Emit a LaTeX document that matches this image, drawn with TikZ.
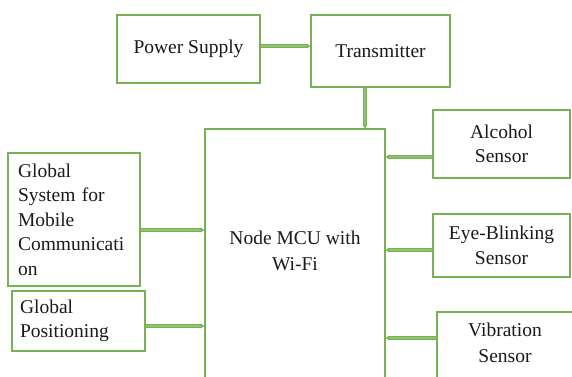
\documentclass[tikz,border=0pt]{standalone}
\usepackage{fontspec}
\setmainfont{Liberation Serif}
\newfontfamily\diagface{Liberation Serif}
\usetikzlibrary{arrows.meta}
\definecolor{boxgreen}{HTML}{78B155}
\definecolor{linkfill}{HTML}{8FC46C}
\definecolor{inktext}{HTML}{1A1A1A}
\tikzset{
  block/.style={draw=boxgreen, line width=1.4pt, fill=white, inner sep=0pt,
    text=inktext, font=\diagface\fontsize{19.5}{24.5}\selectfont, align=center},
  leftblock/.style={block, align=left},
  conn/.style={draw=boxgreen, line width=1pt, double=linkfill,
    double distance=1.5pt, -{Stealth[length=4pt,width=5pt]}},
  labeltext/.style={text=inktext, font=\diagface\fontsize{19.5}{26}\selectfont, align=center}
}
\begin{document}
\begin{tikzpicture}[x=1pt, y=-1pt]
\useasboundingbox (0,0) rectangle (572,376);
\begin{scope}
\clip (0,0) rectangle (572,376);
% top row
\node[block, minimum width=143pt, minimum height=68pt] (ps) at (188.5,49) {Power Supply};
\node[block, minimum width=139pt, minimum height=72pt] (trans) at (380.5,51) {Transmitter};
% central controller (runs past the lower edge)
\node[block, minimum width=180pt, minimum height=272pt] (mcu) at (295,265) {};
\node[labeltext] (mcutext) at (295,251) {Node MCU with\\Wi-Fi};
% sensors on the right
\node[block, minimum width=137pt, minimum height=68pt] (alc) at (501.5,144) {Alcohol\\Sensor};
\node[block, minimum width=137pt, minimum height=63pt] (eye) at (501.5,245.5) {Eye-Blinking\\Sensor};
\node[block, minimum width=136pt, minimum height=73pt] (vib) at (505,348.5) {};
\node[labeltext] (vibtext) at (505,342.5) {Vibration\\Sensor};
% modules on the left
\node[leftblock, minimum width=132pt, minimum height=133pt, text width=112pt] (gsm) at (74,219.5)
  {Global\\System for\\Mobile\\Communicati\\on};
\node[leftblock, minimum width=133pt, minimum height=60pt, text width=117pt] (gps) at (78.5,321)
  {Global\\Positioning};
\end{scope}
% connectors
\draw[conn] ([yshift=3pt]ps.east) -- ([yshift=3pt]ps.east -| trans.west);
\draw[conn] ([xshift=-15.5pt]trans.south) -- ([xshift=-15.5pt]trans.south |- mcu.north);
\draw[conn] ([yshift=-13pt]alc.west) -- ([yshift=-13pt]alc.west -| mcu.east);
\draw[conn] ([yshift=-4.5pt]eye.west) -- ([yshift=-4.5pt]eye.west -| mcu.east);
\draw[conn] ([yshift=10.5pt]vib.west) -- ([yshift=10.5pt]vib.west -| mcu.east);
\draw[conn] ([yshift=-10.5pt]gsm.east) -- ([yshift=-10.5pt]gsm.east -| mcu.west);
\draw[conn] ([yshift=-5pt]gps.east) -- ([yshift=-5pt]gps.east -| mcu.west);
\end{tikzpicture}
\end{document}
